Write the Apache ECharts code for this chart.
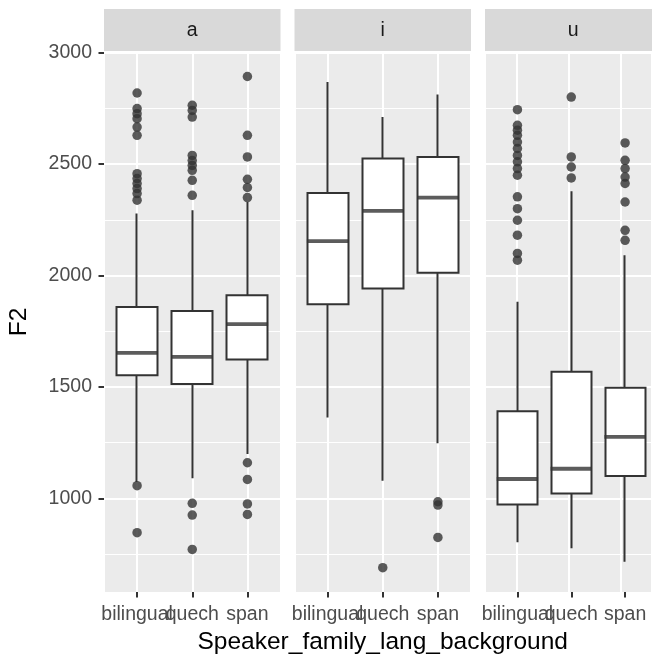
<!DOCTYPE html>
<html><head><meta charset="utf-8">
<script src="https://cdn.jsdelivr.net/npm/echarts@6/dist/echarts.min.js"></script>
<style>html,body{margin:0;padding:0;background:#fff}#c{width:652px;height:661px}</style>
</head><body><div id="c"></div>
<script>
// ---- data ----
const categories = ['bilingual', 'quech', 'span'];
const facets = ['a', 'i', 'u'];
const yTicks = [1000, 1500, 2000, 2500, 3000];
const yMin = 580, yMax = 3003;

// box stats: [lower whisker, Q1, median, Q3, upper whisker]
const statsA = [
  [1074, 1553, 1653, 1859, 2278],
  [1090, 1513, 1635, 1841, 2293],
  [1199, 1623, 1782, 1912, 2330]
];
const statsI = [
  [1363, 1871, 2154, 2370, 2868],
  [1079, 1942, 2290, 2525, 2711],
  [1247, 2012, 2350, 2532, 2812]
];
const statsU = [
  [803, 973, 1087, 1391, 1882],
  [776, 1022, 1133, 1568, 2378],
  [716, 1100, 1276, 1496, 2091]
];

// outliers per category
const outA = [
  [2819, 2749, 2726, 2704, 2666, 2629, 2457, 2435, 2413, 2390, 2368, 2338, 1057, 846],
  [2764, 2741, 2711, 2539, 2516, 2494, 2472, 2427, 2360, 978, 925, 771],
  [2893, 2629, 2532, 2432, 2395, 2350, 1160, 1085, 975, 928]
];
const outI = [
  [],
  [689],
  [985, 970, 825]
];
const outU = [
  [2744, 2674, 2652, 2629, 2599, 2570, 2539, 2510, 2480, 2450, 2353, 2300, 2248, 2181, 2099, 2069],
  [2801, 2532, 2487, 2438],
  [2595, 2517, 2480, 2442, 2413, 2330, 2203, 2158]
];

// ---- layout ----
const FONT = 'Liberation Sans';
const panelLeft = [104, 294.5, 485];
const panelW = 176.5, panelTop = 52, panelH = 540;
const band = panelW / 3.2;
const innerOff = 0.1 * band;
const stats = [statsA, statsI, statsU];
const outs = [outA, outI, outU];
const INK = '#333333';

const grid = [], xAxis = [], yAxis = [], series = [];
for (let p = 0; p < 3; p++) {
  grid.push({ left: panelLeft[p], top: panelTop, width: panelW, height: panelH,
    show: true, backgroundColor: '#EBEBEB', borderWidth: 0 });
}
for (let p = 0; p < 3; p++) {
  grid.push({ left: panelLeft[p] + innerOff, top: panelTop, width: band * 3, height: panelH,
    show: false });
}
for (let p = 0; p < 3; p++) {
  xAxis.push({ type: 'value', gridIndex: p, min: 0.4, max: 3.6, minInterval: 1, maxInterval: 1,
    axisLine: { show: false }, axisTick: { show: false }, axisLabel: { show: false },
    splitLine: { show: true, lineStyle: { color: '#FFFFFF', width: 2 } } });
  yAxis.push({ type: 'value', gridIndex: p, min: yMin, max: yMax, minInterval: 500, maxInterval: 500,
    axisLine: { show: false },
    axisTick: { show: p === 0, length: 5.5, customValues: yTicks, lineStyle: { color: INK, width: 2 } },
    axisLabel: { show: p === 0, customValues: yTicks, color: '#4D4D4D', fontSize: 19.5, fontFamily: FONT, margin: 12,
      formatter: v => String(v) },
    splitLine: { show: true, lineStyle: { color: '#FFFFFF', width: 2 } },
    minorTick: { show: false, splitNumber: 2 },
    minorSplitLine: { show: true, lineStyle: { color: '#FFFFFF', width: 1 } },
    name: p === 0 ? 'F2' : '', nameLocation: 'middle', nameGap: 72, nameRotate: 90,
    nameTextStyle: { color: '#000000', fontSize: 24.5, fontFamily: FONT } });
}
for (let p = 0; p < 3; p++) {
  xAxis.push({ type: 'category', gridIndex: 3 + p, data: categories, boundaryGap: true,
    axisLine: { show: false },
    axisTick: { show: true, alignWithLabel: true, length: 5.5, lineStyle: { color: INK, width: 2 } },
    axisLabel: { interval: 0, color: '#4D4D4D', fontSize: 19.5, fontFamily: FONT, margin: 13 },
    splitLine: { show: false },
    name: p === 1 ? 'Speaker_family_lang_background' : '', nameLocation: 'middle', nameGap: 37,
    nameTextStyle: { color: '#000000', fontSize: 24.5, fontFamily: FONT } });
  yAxis.push({ type: 'value', gridIndex: 3 + p, min: yMin, max: yMax, show: false });

  series.push({ type: 'candlestick', xAxisIndex: 3 + p, yAxisIndex: 3 + p, barWidth: '75%',
    itemStyle: { color: '#FFFFFF', color0: '#FFFFFF', borderColor: INK, borderColor0: INK, borderColorDoji: INK, borderWidth: 2 },
    data: stats[p].map(s => [s[1], s[3], s[0], s[4]]), silent: true });
  series.push({ type: 'scatter', xAxisIndex: 3 + p, yAxisIndex: 3 + p, symbol: 'rect',
    symbolSize: [band * 0.75, 3.8], itemStyle: { color: INK }, silent: true,
    data: stats[p].map((s, i) => [i, s[2]]) });
  const pts = [];
  outs[p].forEach((arr, i) => arr.forEach(v => pts.push([i, v])));
  series.push({ type: 'scatter', xAxisIndex: 3 + p, yAxisIndex: 3 + p, symbol: 'circle',
    symbolSize: 9.5, itemStyle: { color: INK }, silent: true, data: pts });
}

const graphic = [];
facets.forEach((f, p) => {
  graphic.push({ type: 'rect', shape: { x: panelLeft[p], y: 9, width: panelW, height: 42 },
    style: { fill: '#D9D9D9' }, silent: true });
  graphic.push({ type: 'text', style: { text: f, x: panelLeft[p] + panelW / 2, y: 31,
    align: 'center', verticalAlign: 'middle', fill: '#1A1A1A', fontSize: 19.5, fontFamily: FONT }, silent: true });
});

const chart = echarts.init(document.getElementById('c'), null, { renderer: 'canvas' });
chart.setOption({ animation: false, backgroundColor: '#FFFFFF', grid, xAxis, yAxis, series, graphic });
</script>
</body></html>
